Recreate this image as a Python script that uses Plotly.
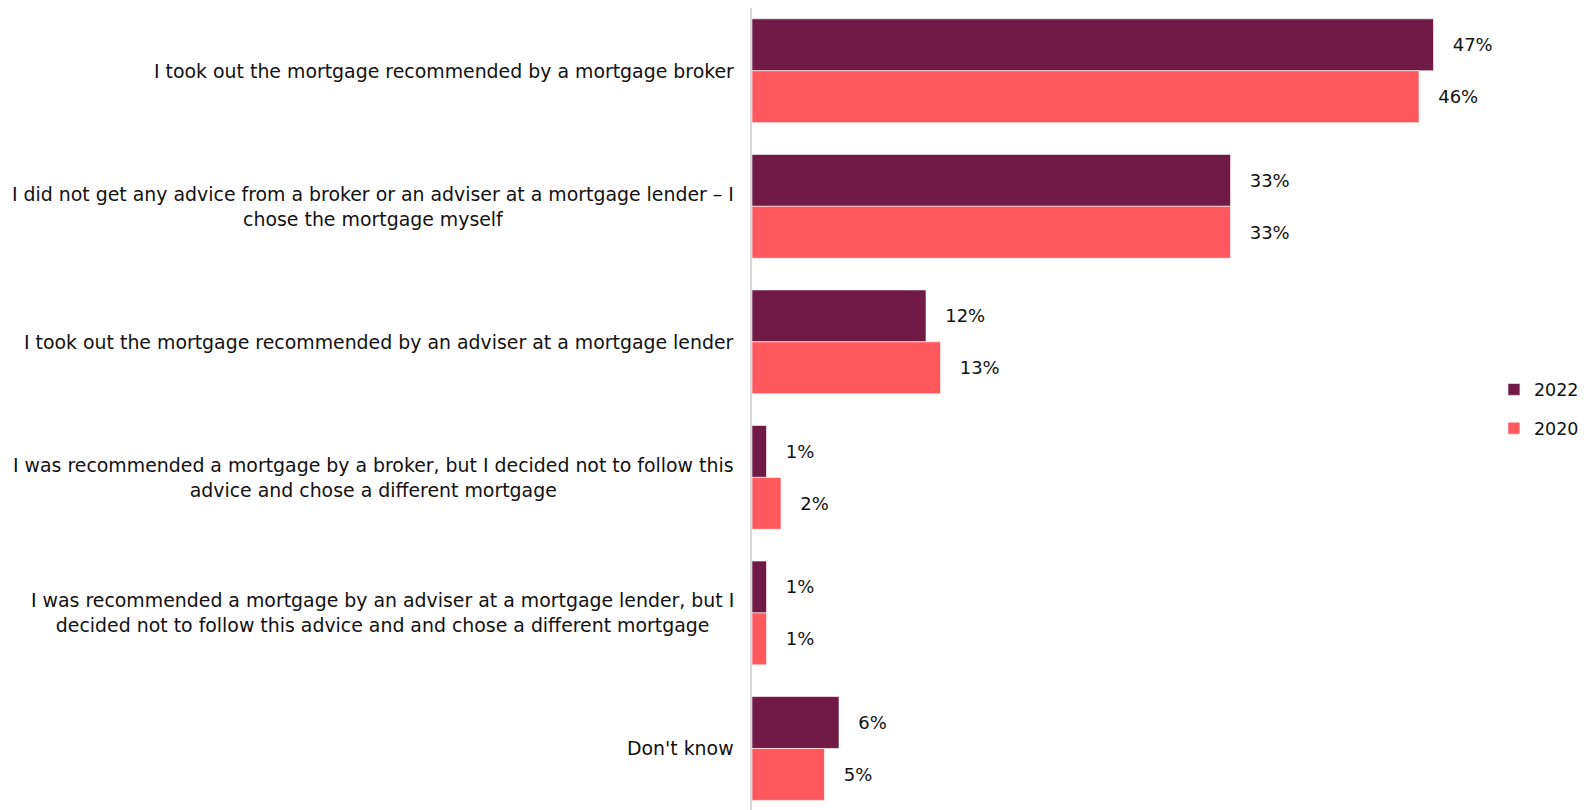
import plotly.graph_objects as go

categories = [
    "I took out the mortgage recommended by a mortgage broker",
    "I did not get any advice from a broker or an adviser at a mortgage lender – I<br>chose the mortgage myself",
    "I took out the mortgage recommended by an adviser at a mortgage lender",
    "I was recommended a mortgage by a broker, but I decided not to follow this<br>advice and chose a different mortgage",
    "I was recommended a mortgage by an adviser at a mortgage lender, but I<br>decided not to follow this advice and and chose a different mortgage",
    "Don't know",
]
values_2022 = [47, 33, 12, 1, 1, 6]
values_2020 = [46, 33, 13, 2, 1, 5]

COL_2022 = "#701a45"
COL_2020 = "#ff595e"
FONT = "Verdana, DejaVu Sans, sans-serif"

fig = go.Figure()
for name, vals, col in [("2022", values_2022, COL_2022), ("2020", values_2020, COL_2020)]:
    fig.add_trace(go.Bar(
        y=categories, x=vals, name=name, orientation="h",
        marker=dict(color=col, line=dict(color="white", width=0.6)),
        text=vals, texttemplate="\u2002\u2009\u2009%{x}%", textposition="outside",
        textfont=dict(size=18, color="#111111"), cliponaxis=False,
        legendgroup=name,
    ))

# category labels as annotations so wrapped lines stay centred
for c in categories:
    fig.add_annotation(
        x=0, xref="paper", xshift=-16, xanchor="right",
        y=c, yref="y", yanchor="middle",
        text=c, showarrow=False, align="center",
        font=dict(size=18.9, color="#111111", family=FONT),
    )

fig.update_layout(
    width=1578, height=802,
    barmode="group", bargap=0.234, bargroupgap=0,
    plot_bgcolor="white", paper_bgcolor="white",
    font=dict(family=FONT, size=18, color="#111111"),
    margin=dict(l=744, r=109, t=0, b=0),
    xaxis=dict(range=[0, 50], showticklabels=False, showgrid=False, zeroline=False, showline=False),
    yaxis=dict(range=[5.454, -0.463], showticklabels=False, showgrid=False, zeroline=False,
               showline=True, linecolor="#d9d9d9", linewidth=2, ticks=""),
    legend=dict(x=1.0234, xanchor="left", y=0.5, yanchor="middle", traceorder="grouped",
                tracegroupgap=13, font=dict(size=17.5), bgcolor="rgba(0,0,0,0)"),
    showlegend=True,
)

fig.write_html("out.html")
